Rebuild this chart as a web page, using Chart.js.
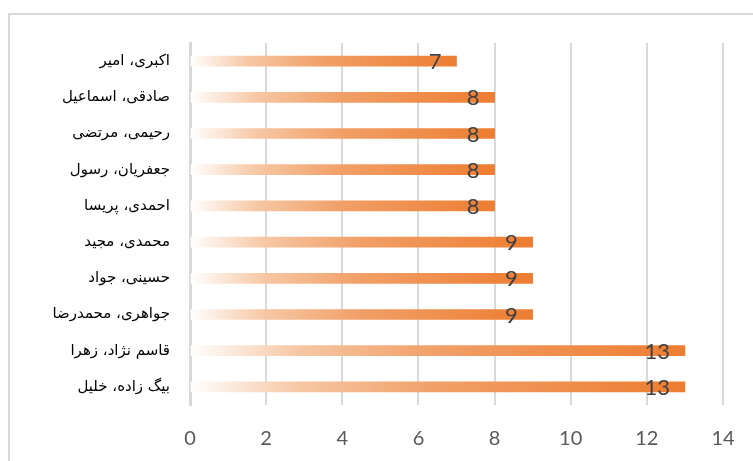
<!DOCTYPE html>
<html>
<head>
    <meta charset="utf-8">
    <title>Bar chart</title>
    <style>
        html, body { margin: 0; padding: 0; background: #fff; }
        #wrap { width: 753px; height: 461px; }
    </style>
</head>
<body>
    <div id="wrap">
        <canvas id="myChart" width="753" height="461"></canvas>
    </div>
    <script src="https://cdn.jsdelivr.net/npm/chart.js"></script>
    <script>
        // names top to bottom, as in the picture
        const names = [
            'اکبری، امیر',
            'صادقی، اسماعیل',
            'رحیمی، مرتضی',
            'جعفریان، رسول',
            'احمدی، پریسا',
            'محمدی، مجید',
            'حسینی، جواد',
            'جواهری، محمدرضا',
            'قاسم نژاد، زهرا',
            'بیگ زاده، خلیل'
        ];
        const counts = [7, 8, 8, 8, 8, 9, 9, 9, 13, 13];
        const xTicks = [0, 2, 4, 6, 8, 10, 12, 14];

        // each bar fades from white at zero to orange at its end
        const barFill = (ctx) => {
            const chart = ctx.chart;
            const xs = chart.scales.x;
            if (!xs || ctx.parsed == null) return '#ed7d31';
            const x0 = xs.getPixelForValue(0);
            const x1 = xs.getPixelForValue(ctx.parsed.x);
            if (!isFinite(x0) || !isFinite(x1) || x1 <= x0) return '#ed7d31';
            const g = chart.ctx.createLinearGradient(x0, 0, x1, 0);
            g.addColorStop(0, '#ffffff');
            g.addColorStop(0.22, '#f6c7a4');
            g.addColorStop(0.5, '#f19f67');
            g.addColorStop(1, '#ed7d31');
            return g;
        };

        const frame = {
            id: 'frame',
            beforeDraw(chart) {
                const c = chart.ctx;
                c.save();
                c.strokeStyle = '#d9d9d9';
                c.lineWidth = 2;
                c.beginPath();
                c.moveTo(9, 470);
                c.lineTo(9, 14);
                c.lineTo(760, 14);
                c.stroke();
                c.restore();
            }
        };

        const valueLabels = {
            id: 'valueLabels',
            afterDatasetsDraw(chart) {
                const c = chart.ctx;
                const meta = chart.getDatasetMeta(0);
                c.save();
                c.font = '22px Lato, "Open Sans", sans-serif';
                c.fillStyle = '#404040';
                c.textAlign = 'right';
                c.textBaseline = 'middle';
                meta.data.forEach((bar, i) => {
                    c.fillText(String(counts[i]), bar.x - 15, bar.y + 1);
                });
                c.restore();
            }
        };

        const config = {
            type: 'bar',
            data: {
                labels: names,
                datasets: [{
                    data: counts,
                    backgroundColor: barFill,
                    borderWidth: 0,
                    barThickness: 10
                }]
            },
            options: {
                indexAxis: 'y',
                responsive: false,
                animation: false,
                layout: { padding: { top: 43, right: 30, left: 0, bottom: 0 } },
                plugins: {
                    legend: { display: false },
                    tooltip: { enabled: false }
                },
                scales: {
                    x: {
                        min: 0,
                        max: 14,
                        afterBuildTicks: (axis) => {
                            axis.ticks = xTicks.map(v => ({ value: v }));
                        },
                        afterFit: (axis) => {
                            axis.height = 56;
                            axis.paddingRight = 0;
                        },
                        grid: {
                            color: '#d9d9d9',
                            lineWidth: 2,
                            drawTicks: false
                        },
                        border: { display: false },
                        ticks: {
                            padding: 22,
                            color: '#595959',
                            font: { family: 'Lato, "Open Sans", sans-serif', size: 20 }
                        }
                    },
                    y: {
                        afterFit: (axis) => { axis.width = 190; },
                        grid: { display: false, drawTicks: false },
                        border: { display: true, color: '#d9d9d9', width: 3 },
                        ticks: {
                            padding: 20,
                            color: '#000000',
                            font: { family: '"DejaVu Sans", "Noto Sans", sans-serif', size: 15 }
                        }
                    }
                }
            },
            plugins: [frame, valueLabels]
        };

        new Chart(document.getElementById('myChart'), config);
    </script>
</body>
</html>
